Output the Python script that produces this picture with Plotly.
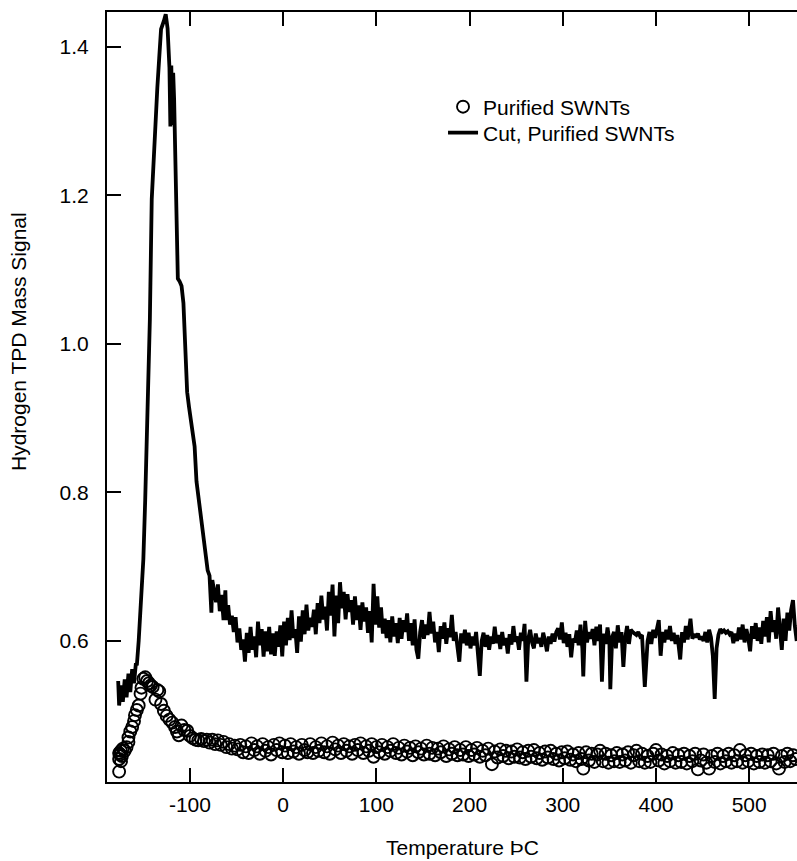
import plotly.graph_objects as go

# ---- Cut, Purified SWNTs (line) ----
cut_temp = [
    -177, -176, -174, -172, -170, -168, -166, -164, -162, -160, -158, -157, -155, -153, -151, -150,
    -148, -146, -144, -143, -141, -139, -137, -135, -133, -131, -128, -126, -124, -122, -121, -120,
    -119, -118, -117, -116, -115, -114, -113, -111, -109, -107, -105, -103, -101, -99, -97, -95,
    -93, -91, -89, -87, -85, -83, -81, -79, -77, -76,
    -74, -72, -70, -68, -66, -64, -62, -61, -59, -57, -55, -53, -51, -49, -47, -45, -43, -41,
    -39, -37, -35, -33, -31, -29, -27, -25, -23, -21, -19, -17, -15, -13, -11, -9, -7, -5, -3, -1,
    1, 3, 5, 7, 9, 11, 13, 15, 17, 19, 21, 23, 25, 27, 29, 31, 33, 35, 37, 39, 41, 43, 45, 47, 49,
    51, 53, 55, 57, 59, 61, 63, 65, 67, 69, 71, 73, 75, 77, 79, 81, 83, 85, 87, 89, 91, 93, 95, 97, 99,
    101, 103, 105, 107, 109, 111, 113, 115, 117, 119, 121, 123, 125, 127, 129, 131, 133, 135, 137, 139,
    141, 143, 145, 147, 149, 151, 153, 155, 157, 159, 161, 163, 165, 167, 169, 171, 173, 175, 177, 179,
    181, 183, 185, 187, 189, 191, 193, 195, 197, 199, 201, 203, 205, 207, 209, 211, 213, 215, 217, 219,
    221, 223, 225, 227, 229, 231, 233, 235, 237, 239, 241, 243, 245, 247, 249, 251, 253, 255, 257, 259,
    261, 263, 265, 267, 269, 271, 273, 275, 277, 279, 281, 283, 285, 287, 289, 291, 293, 295, 297, 299,
    301, 303, 305, 307, 309, 311, 313, 315, 317, 319, 321, 322, 324, 326, 328, 330, 332, 334, 336, 338,
    340, 342, 344, 346, 348, 350, 351, 353, 355, 357, 359, 361, 363, 365, 367, 369, 371, 373, 375, 377,
    379, 381, 383, 385, 388, 391, 393, 395, 397, 399, 401, 403, 405, 407, 409, 411, 413, 415, 417, 419,
    421, 423, 426, 428, 430, 432, 434, 437, 439, 441, 443, 445, 447, 449, 451, 453, 455, 457, 459, 461,
    463, 465, 467, 469, 471, 473, 475, 477, 479, 481, 483, 485, 487, 489, 491, 493, 495, 497, 499, 501,
    503, 505, 507, 509, 511, 513, 515, 517, 519, 521, 523, 525, 527, 529, 531, 533, 535, 537, 539, 541,
    543, 545, 547, 549, 551,
]
cut_signal = [
    0.546, 0.513, 0.540, 0.518, 0.548, 0.524, 0.556, 0.531, 0.562, 0.543, 0.570, 0.567, 0.600, 0.650, 0.690, 0.710,
    0.790, 0.880, 0.960, 1.033, 1.195, 1.250, 1.300, 1.345, 1.385, 1.424, 1.435, 1.444, 1.425, 1.372, 1.293, 1.375,
    1.295, 1.365, 1.330, 1.260, 1.170, 1.100, 1.088, 1.084, 1.078, 1.055, 1.000, 0.935, 0.915, 0.895, 0.883, 0.862,
    0.815, 0.795, 0.775, 0.752, 0.742, 0.722, 0.695, 0.688, 0.638, 0.682,
    0.665, 0.652, 0.676, 0.640, 0.662, 0.628, 0.668, 0.628, 0.648, 0.622, 0.634, 0.612, 0.632, 0.598, 0.617, 0.588, 0.602, 0.572,
    0.611, 0.584, 0.619, 0.588, 0.606, 0.578, 0.626, 0.594, 0.616, 0.579, 0.613, 0.586, 0.619, 0.582, 0.610, 0.580, 0.613, 0.592, 0.621, 0.579,
    0.626, 0.594, 0.631, 0.601, 0.641, 0.604, 0.616, 0.584, 0.633, 0.599, 0.641, 0.609, 0.649, 0.614, 0.631, 0.619, 0.642, 0.609, 0.651, 0.624, 0.661, 0.629, 0.646, 0.614, 0.666,
    0.634, 0.676, 0.606, 0.661, 0.624, 0.679, 0.644, 0.666, 0.629, 0.663, 0.639, 0.655, 0.622, 0.660, 0.628, 0.648, 0.615, 0.652, 0.626, 0.645, 0.611, 0.640, 0.598, 0.677, 0.622,
    0.660, 0.618, 0.645, 0.610, 0.630, 0.604, 0.628, 0.598, 0.633, 0.606, 0.624, 0.597, 0.631, 0.603, 0.628, 0.612, 0.637, 0.600, 0.624, 0.594,
    0.629, 0.588, 0.576, 0.612, 0.628, 0.603, 0.622, 0.608, 0.639, 0.610, 0.626, 0.598, 0.612, 0.585, 0.620, 0.603, 0.625, 0.596, 0.617, 0.605,
    0.635, 0.600, 0.612, 0.590, 0.572, 0.610, 0.597, 0.615, 0.594, 0.611, 0.590, 0.606, 0.594, 0.612, 0.580, 0.553, 0.600, 0.611, 0.592, 0.608,
    0.588, 0.606, 0.596, 0.619, 0.597, 0.608, 0.589, 0.612, 0.594, 0.604, 0.583, 0.609, 0.595, 0.620, 0.599, 0.606, 0.588, 0.611, 0.600, 0.623,
    0.545, 0.603, 0.615, 0.598, 0.590, 0.610, 0.597, 0.604, 0.592, 0.611, 0.600, 0.586, 0.606, 0.596, 0.610, 0.599, 0.612, 0.617, 0.602, 0.625,
    0.597, 0.611, 0.592, 0.609, 0.578, 0.603, 0.598, 0.614, 0.594, 0.622, 0.590, 0.552, 0.627, 0.598, 0.612, 0.603, 0.616, 0.594, 0.619, 0.600,
    0.622, 0.545, 0.610, 0.596, 0.618, 0.600, 0.535, 0.605, 0.612, 0.590, 0.621, 0.598, 0.612, 0.565, 0.604, 0.620, 0.596, 0.615, 0.612, 0.610,
    0.608, 0.612, 0.606, 0.608, 0.538, 0.600, 0.612, 0.596, 0.615, 0.604, 0.620, 0.628, 0.580, 0.612, 0.598, 0.615, 0.602, 0.620, 0.600, 0.611,
    0.596, 0.608, 0.575, 0.612, 0.598, 0.620, 0.602, 0.630, 0.603, 0.609, 0.605, 0.610, 0.602, 0.606, 0.600, 0.612, 0.598, 0.615, 0.605, 0.580,
    0.522, 0.590, 0.608, 0.616, 0.612, 0.614, 0.611, 0.613, 0.609, 0.612, 0.597, 0.610, 0.600, 0.618, 0.602, 0.622, 0.598, 0.616, 0.604, 0.586,
    0.620, 0.603, 0.624, 0.600, 0.618, 0.596, 0.627, 0.606, 0.632, 0.598, 0.640, 0.612, 0.628, 0.603, 0.645, 0.608, 0.588, 0.630, 0.600, 0.638,
    0.614, 0.642, 0.655, 0.620, 0.600,
]

# ---- Purified SWNTs (open circles) ----
pur_temp = [
    -176, -176, -175, -174, -176, -173, -172, -174, -170, -168, -166, -166, -164, -162, -160, -159,
    -157, -155, -153, -152, -150, -148, -146, -144, -142, -140, -137, -135, -133, -131, -128, -125,
    -122, -119, -116, -114, -112, -109, -106, -103, -100, -97, -94, -91, -88, -85, -82, -79,
    -76, -73, -70, -67, -64, -61, -58, -55, -52, -49,
    -46, -43, -40, -37, -34, -31, -28, -25, -22, -19, -16, -13, -10, -7, -4, -1,
    2, 5, 8, 11, 14, 17, 20, 23, 26, 29, 32, 35, 38, 41, 44, 47, 50, 53, 56, 59,
    62, 65, 68, 71, 74, 77, 80, 83, 86, 89, 92, 95, 97, 100, 103, 106, 109, 112, 115, 118,
    121, 124, 127, 130, 133, 136, 139, 142, 145, 148, 151, 154, 157, 160, 163, 166, 169, 172, 175, 178,
    181, 184, 187, 190, 193, 196, 199, 202, 205, 208, 211, 214, 217, 220, 224, 227, 230, 233, 236, 239,
    242, 245, 248, 251, 254, 257, 260, 263, 266, 269, 272, 275, 278, 281, 284, 287, 290, 293, 296, 299,
    302, 305, 308, 311, 314, 317, 320, 322, 325, 328, 331, 334, 337, 340, 343, 346, 349, 352, 355, 358,
    361, 364, 367, 370, 373, 376, 379, 382, 385, 388, 391, 394, 397, 400, 403, 406, 409, 412, 415, 418,
    421, 424, 427, 430, 433, 436, 439, 442, 445, 448, 451, 454, 457, 460, 463, 466, 469, 472, 475, 478,
    481, 484, 487, 490, 493, 496, 499, 502, 505, 508, 511, 514, 517, 520, 523, 526, 529, 532, 535, 538,
    541, 544, 547, 550,
]
pur_signal = [
    0.424, 0.441, 0.447, 0.452, 0.449, 0.445, 0.455, 0.438, 0.452, 0.457, 0.464, 0.470, 0.478, 0.484, 0.492, 0.500,
    0.507, 0.513, 0.529, 0.537, 0.549, 0.551, 0.546, 0.543, 0.540, 0.538, 0.521, 0.534, 0.532, 0.515, 0.506, 0.499,
    0.494, 0.490, 0.484, 0.478, 0.473, 0.486, 0.480, 0.479, 0.472, 0.469, 0.467, 0.466, 0.468, 0.465, 0.467, 0.463,
    0.467, 0.461, 0.466, 0.460, 0.464, 0.457, 0.461, 0.455, 0.459, 0.454,
    0.460, 0.450, 0.458, 0.449, 0.462, 0.453, 0.458, 0.448, 0.461, 0.452, 0.457, 0.447, 0.460, 0.453, 0.462, 0.450,
    0.459, 0.449, 0.461, 0.451, 0.457, 0.448, 0.460, 0.453, 0.450, 0.461, 0.449, 0.457, 0.452, 0.462, 0.450, 0.458, 0.448, 0.463, 0.454, 0.459,
    0.449, 0.461, 0.452, 0.458, 0.448, 0.460, 0.453, 0.462, 0.449, 0.458, 0.452, 0.461, 0.444, 0.457, 0.450, 0.460, 0.448, 0.457, 0.452, 0.461,
    0.449, 0.456, 0.447, 0.459, 0.451, 0.456, 0.446, 0.458, 0.450, 0.455, 0.447, 0.459, 0.448, 0.456, 0.446, 0.455, 0.450, 0.458, 0.445, 0.454,
    0.448, 0.457, 0.446, 0.453, 0.447, 0.457, 0.445, 0.453, 0.447, 0.456, 0.444, 0.452, 0.446, 0.455, 0.434, 0.451, 0.443, 0.454, 0.445, 0.452,
    0.442, 0.451, 0.444, 0.454, 0.443, 0.450, 0.441, 0.452, 0.444, 0.453, 0.442, 0.449, 0.440, 0.451, 0.443, 0.452, 0.441, 0.448, 0.439, 0.450,
    0.442, 0.451, 0.440, 0.447, 0.438, 0.449, 0.441, 0.428, 0.450, 0.439, 0.448, 0.437, 0.447, 0.452, 0.438, 0.448, 0.436, 0.446, 0.438, 0.449,
    0.437, 0.447, 0.439, 0.450, 0.436, 0.446, 0.452, 0.438, 0.448, 0.436, 0.445, 0.437, 0.448, 0.453, 0.439, 0.447, 0.435, 0.445, 0.438, 0.449,
    0.436, 0.446, 0.437, 0.448, 0.435, 0.445, 0.438, 0.448, 0.427, 0.439, 0.447, 0.436, 0.428, 0.445, 0.437, 0.448, 0.435, 0.445, 0.438, 0.448,
    0.436, 0.446, 0.438, 0.453, 0.436, 0.446, 0.438, 0.448, 0.435, 0.445, 0.437, 0.447, 0.436, 0.446, 0.438, 0.448, 0.435, 0.428, 0.445, 0.437,
    0.448, 0.438, 0.446, 0.441,
]

x_ticks = [-100, 0, 100, 200, 300, 400, 500]
x_tick_text = ["-100", "0", "100", "200", "300", "400", "500"]
y_ticks = [0.6, 0.8, 1.0, 1.2, 1.4]
y_tick_text = ["0.6", "0.8", "1.0", "1.2", "1.4"]
x_range = [-189, 551.3]
y_range = [0.41, 1.447]

FONT = "Liberation Sans, Arial, Helvetica, sans-serif"
FS = 21

fig = go.Figure()
fig.add_trace(go.Scatter(
    x=pur_temp, y=pur_signal, mode="markers", name="Purified SWNTs",
    marker=dict(symbol="circle-open", size=12, color="black", line=dict(width=1.9, color="black")),
    legend="legend",
))
fig.add_trace(go.Scatter(
    x=cut_temp, y=cut_signal, mode="lines", name="Cut, Purified SWNTs",
    line=dict(color="black", width=3.8), legend="legend2",
))

leg_common = dict(xanchor="left", yanchor="top", bgcolor="rgba(0,0,0,0)",
                  font=dict(size=FS, family=FONT), itemwidth=30)

fig.update_layout(
    width=797, height=861,
    margin=dict(l=107, r=0, t=12, b=79),
    paper_bgcolor="white", plot_bgcolor="white",
    font=dict(family=FONT, size=FS, color="black"),
    showlegend=True,
    legend=dict(x=0.487, y=0.9032, **leg_common),
    legend2=dict(x=0.487, y=0.8695, **leg_common),
    xaxis=dict(range=x_range, tickvals=x_ticks, ticktext=x_tick_text, ticks="inside", ticklen=14, tickwidth=2,
               tickcolor="black", showline=True, linewidth=2, linecolor="black",
               mirror="ticks", showgrid=False, zeroline=False,
               tickfont=dict(size=FS, family=FONT), ticklabelstandoff=3),
    yaxis=dict(range=y_range, tickvals=y_ticks, ticktext=y_tick_text,
               ticks="inside", ticklen=14, tickwidth=2,
               tickcolor="black", showline=True, linewidth=2, linecolor="black",
               mirror=False, showgrid=False, zeroline=False,
               tickfont=dict(size=FS, family=FONT), ticklabelstandoff=12),
    yaxis2=dict(range=y_range, tickvals=y_ticks, overlaying="y", side="right", anchor="x",
                ticks="inside", ticklen=6, tickwidth=2, tickcolor="black",
                showticklabels=False, showline=False, showgrid=False, zeroline=False),
    annotations=[
        dict(text="Temperature ÞC", xref="paper", yref="paper", x=0.5145, y=-0.0857,
             xanchor="center", yanchor="middle", showarrow=False, font=dict(size=FS, family=FONT)),
        dict(text="Hydrogen TPD Mass Signal", xref="paper", yref="paper", x=-0.129, y=0.5727,
             xanchor="center", yanchor="middle", textangle=-90, showarrow=False,
             font=dict(size=FS, family=FONT)),
    ],
)

fig.write_html(
    "out.html",
    config={"displayModeBar": False},
    post_script="document.body.style.margin='0';document.body.style.overflow='hidden';",
)
